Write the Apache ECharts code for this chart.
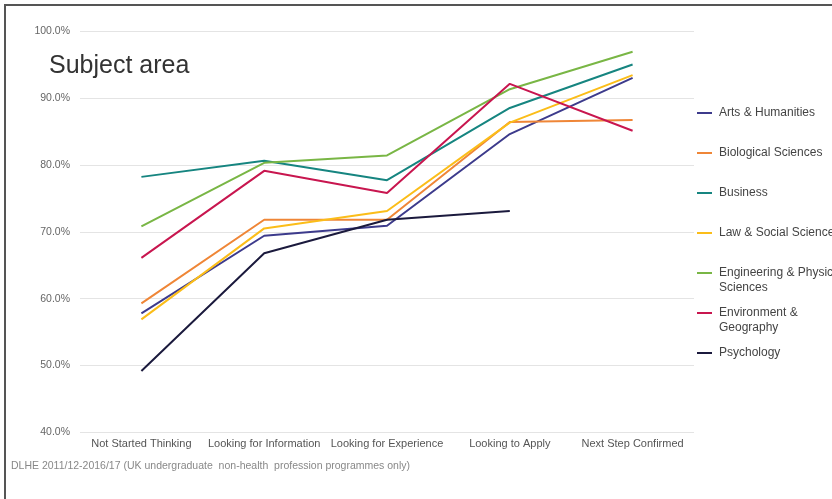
<!DOCTYPE html>
<html>
<head>
<meta charset="utf-8">
<script src="https://cdn.jsdelivr.net/npm/echarts@6/dist/echarts.min.js"></script>
<style>
  html, body { margin: 0; padding: 0; background: #fff; }
  #chart { width: 832px; height: 499px; position: absolute; left: 0; top: 0; }
  #frame { position: absolute; left: 4px; top: 4px; width: 900px; height: 600px;
           border-left: 2px solid #555; border-top: 2px solid #555; pointer-events: none; }
</style>
</head>
<body>
<div id="chart"></div>
<div id="frame"></div>
<script>
const categories = ['Not Started Thinking', 'Looking for Information', 'Looking for Experience', 'Looking to Apply', 'Next Step Confirmed'];
const seriesNames = ['Arts & Humanities', 'Biological Sciences', 'Business', 'Law & Social Sciences', 'Engineering & Physical Sciences', 'Environment & Geography', 'Psychology'];
const legendLabels = ['Arts & Humanities', 'Biological Sciences', 'Business', 'Law & Social Sciences', 'Engineering & Physical\nSciences', 'Environment &\nGeography', 'Psychology'];
const artsHumanities = [57.8, 69.4, 70.9, 84.6, 93.0];
const biologicalSciences = [59.3, 71.8, 71.8, 86.4, 86.7];
const business = [78.2, 80.6, 77.7, 88.5, 95.0];
const lawSocialSciences = [56.9, 70.5, 73.1, 86.3, 93.4];
const engineeringPhysical = [70.8, 80.3, 81.4, 91.3, 96.9];
const environmentGeography = [66.1, 79.1, 75.8, 92.1, 85.1];
const psychology = [49.2, 66.8, 71.8, 73.1, null];
const yTicks = [40, 50, 60, 70, 80, 90, 100];
const titleText = 'Subject area';
const sourceText = 'DLHE 2011/12-2016/17 (UK undergraduate  non-health  profession programmes only)';

const values = [artsHumanities, biologicalSciences, business, lawSocialSciences, engineeringPhysical, environmentGeography, psychology];
const colors = ['#3d3b8c', '#ef8637', '#168580', '#fbbd19', '#79b645', '#c8164f', '#1b1a3d'];
const FONT = '"Liberation Sans", Arial, sans-serif';

// icon for two-line legend entries: a bar aligned with the first text line
const topLineIcon = 'path://M0,0L15,0M0,6.5L15,6.5L15,8.5L0,8.5ZM0,30L15,30';

const legends = seriesNames.map((name, i) => {
  const twoLine = legendLabels[i].indexOf('\n') >= 0;
  const centerY = 113 + i * 40;
  return {
    data: [name],
    orient: 'vertical',
    left: 697,
    top: twoLine ? centerY - 7.5 : centerY - 7.5,
    padding: 0,
    icon: twoLine ? topLineIcon : 'rect',
    itemWidth: 15,
    itemHeight: twoLine ? 30 : 2,
    itemStyle: { borderWidth: 0 },
    selectedMode: false,
    formatter: () => legendLabels[i],
    textStyle: {
      fontFamily: FONT, fontSize: 12, color: '#444', lineHeight: 15,
      padding: [0, 0, 0, 2]
    }
  };
});

const chart = echarts.init(document.getElementById('chart'), null, { renderer: 'canvas' });
chart.setOption({
  animation: false,
  backgroundColor: '#fff',
  title: [
    { text: titleText, left: 49, top: 54, padding: 0,
      textStyle: { fontFamily: FONT, fontSize: 25, fontWeight: 'normal', color: '#333' } },
    { text: sourceText, left: 11, top: 461, padding: 0,
      textStyle: { fontFamily: FONT, fontSize: 10.5, fontWeight: 'normal', color: '#888' } }
  ],
  legend: legends,
  grid: { left: 80, right: 138, top: 31, bottom: 66.5, containLabel: false },
  xAxis: {
    type: 'category',
    data: categories,
    boundaryGap: true,
    axisLine: { show: false },
    axisTick: { show: false },
    axisLabel: { fontFamily: FONT, fontSize: 11, color: '#555', margin: 6, interval: 0 }
  },
  yAxis: {
    type: 'value',
    min: yTicks[0],
    max: yTicks[yTicks.length - 1],
    interval: 10,
    axisLine: { show: false },
    axisTick: { show: false },
    axisLabel: { fontFamily: FONT, fontSize: 10.5, color: '#666', margin: 10,
      formatter: v => v.toFixed(1) + '%' },
    splitLine: { lineStyle: { color: '#e4e4e4', width: 1 } }
  },
  series: seriesNames.map((name, i) => ({
    name: name,
    type: 'line',
    data: values[i],
    symbol: 'none',
    connectNulls: false,
    lineStyle: { width: 2, color: colors[i] },
    itemStyle: { color: colors[i] }
  }))
});
</script>
</body>
</html>
